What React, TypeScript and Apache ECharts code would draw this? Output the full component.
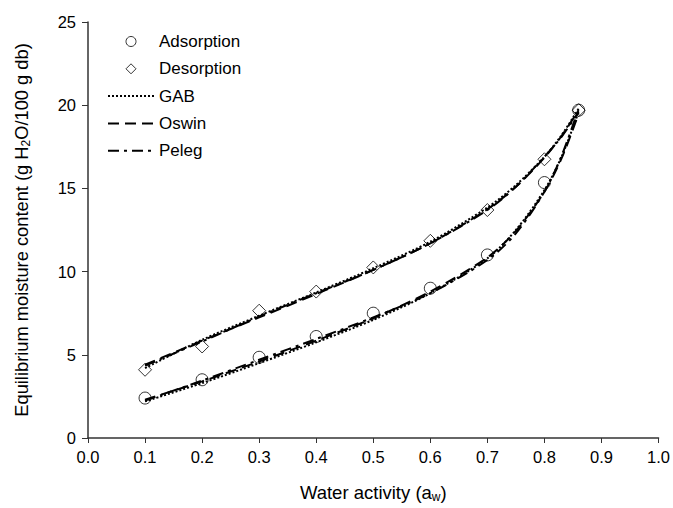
import React, { useEffect, useRef } from "react";
import * as echarts from "echarts";

// Measured points
const awPoints = [0.1, 0.2, 0.3, 0.4, 0.5, 0.6, 0.7, 0.8, 0.86];
const adsorption = [2.4, 3.5, 4.85, 6.1, 7.5, 9.0, 11.0, 15.35, 19.7];
const desorption = [4.1, 5.5, 7.65, 8.8, 10.25, 11.85, 13.7, 16.75, 19.7];

// Model curves
const awCurve = [0.1, 0.2, 0.3, 0.4, 0.5, 0.6, 0.7, 0.75, 0.8, 0.83, 0.86];
const gabAds = [2.2, 3.3, 4.5, 5.75, 7.1, 8.7, 10.8, 12.5, 14.9, 16.9, 19.6];
const oswinAds = [2.3, 3.4, 4.6, 5.85, 7.2, 8.8, 10.85, 12.45, 14.8, 16.8, 19.5];
const pelegAds = [2.25, 3.45, 4.7, 5.95, 7.25, 8.7, 10.7, 12.3, 14.8, 16.95, 19.8];
const gabDes = [4.2, 5.9, 7.35, 8.75, 10.2, 11.8, 13.85, 15.2, 16.9, 18.2, 19.8];
const oswinDes = [4.4, 5.85, 7.25, 8.65, 10.1, 11.7, 13.75, 15.1, 16.85, 18.15, 19.7];
const pelegDes = [4.35, 5.8, 7.3, 8.7, 10.1, 11.7, 13.7, 15.1, 16.9, 18.1, 19.6];

const FONT = "'Liberation Sans', Arial, sans-serif";

const pair = (xs: number[], ys: number[]) => xs.map((x, i) => [x, ys[i]]);

export default function App() {
  const ref = useRef<HTMLDivElement>(null);
  useEffect(() => {
    if (!ref.current) return;
    const chart = echarts.init(ref.current, undefined, { renderer: "svg" });
    const lineSeries = (name: string, ys: number[], dash: number[]) => ({
      name,
      type: "line",
      data: pair(awCurve, ys),
      smooth: 0.3,
      symbol: "none",
      showSymbol: false,
      z: 3,
      lineStyle: { color: "#000", width: 2, type: dash },
      itemStyle: { color: "rgba(0,0,0,0)", borderColor: "rgba(0,0,0,0)", borderWidth: 0 },
    });
    const scatterStyle = { color: "rgba(255,255,255,0)", borderColor: "#000", borderWidth: 1 };
    chart.setOption({
      animation: false,
      textStyle: { fontFamily: FONT },
      grid: { left: 88, right: 11, top: 22, bottom: 70 },
      legend: {
        orient: "vertical",
        left: 102,
        top: 28,
        symbolKeepAspect: true,
        data: [
          { name: "Adsorption", icon: "circle" },
          { name: "Desorption", icon: "path://M0,-1L1,0L0,1L-1,0Z" },
          { name: "GAB" },
          { name: "Oswin" },
          { name: "Peleg" },
        ],
        itemWidth: 46,
        itemHeight: 10,
        itemGap: 10.3,
        itemStyle: { borderWidth: 1 },
        textStyle: { fontSize: 17, color: "#000", fontFamily: FONT },
      },
      xAxis: {
        type: "value",
        min: 0,
        max: 1,
        interval: 0.1,
        name: "Water activity (a{sub|w})",
        nameLocation: "middle",
        nameGap: 44,
        nameTextStyle: {
          fontSize: 18.5,
          color: "#000",
          fontFamily: FONT,
          rich: { sub: { fontSize: 12, verticalAlign: "bottom", padding: [9, 0, 0, 0], fontFamily: FONT } },
        },
        axisLine: { lineStyle: { color: "#333", width: 1.5 } },
        axisTick: { length: 5, lineStyle: { color: "#333" } },
        axisLabel: { fontSize: 16.5, color: "#000", margin: 10, formatter: (v: number) => v.toFixed(1) },
        splitLine: { show: false },
      },
      yAxis: {
        type: "value",
        min: 0,
        max: 25,
        interval: 5,
        name: "Equilibrium moisture content (g H{sub|2}O/100 g db)",
        nameLocation: "middle",
        nameGap: 56,
        nameTextStyle: {
          fontSize: 18.3,
          color: "#000",
          fontFamily: FONT,
          rich: { sub: { fontSize: 12, verticalAlign: "bottom", padding: [9, 0, 0, 0], fontFamily: FONT } },
        },
        axisLine: { show: true, lineStyle: { color: "#333", width: 1.5 } },
        axisTick: { show: true, length: 6, lineStyle: { color: "#333" } },
        axisLabel: { fontSize: 16.5, color: "#000", margin: 12 },
        splitLine: { show: false },
      },
      series: [
        {
          name: "Adsorption",
          type: "scatter",
          data: pair(awPoints, adsorption),
          symbol: "circle",
          symbolSize: 12,
          itemStyle: scatterStyle,
          z: 4,
        },
        {
          name: "Desorption",
          type: "scatter",
          data: pair(awPoints, desorption),
          symbol: "diamond",
          symbolSize: 13,
          itemStyle: scatterStyle,
          z: 4,
        },
        lineSeries("GAB", gabAds, [2, 2]),
        lineSeries("GAB", gabDes, [2, 2]),
        lineSeries("Oswin", oswinAds, [11, 6]),
        lineSeries("Oswin", oswinDes, [11, 6]),
        lineSeries("Peleg", pelegAds, [11, 5, 3, 5]),
        lineSeries("Peleg", pelegDes, [11, 5, 3, 5]),
      ],
    });
    return () => chart.dispose();
  }, []);
  return (
    <div
      ref={ref}
      style={{ position: "fixed", left: 0, top: 0, width: 673, height: 508, background: "#fff" }}
    />
  );
}
